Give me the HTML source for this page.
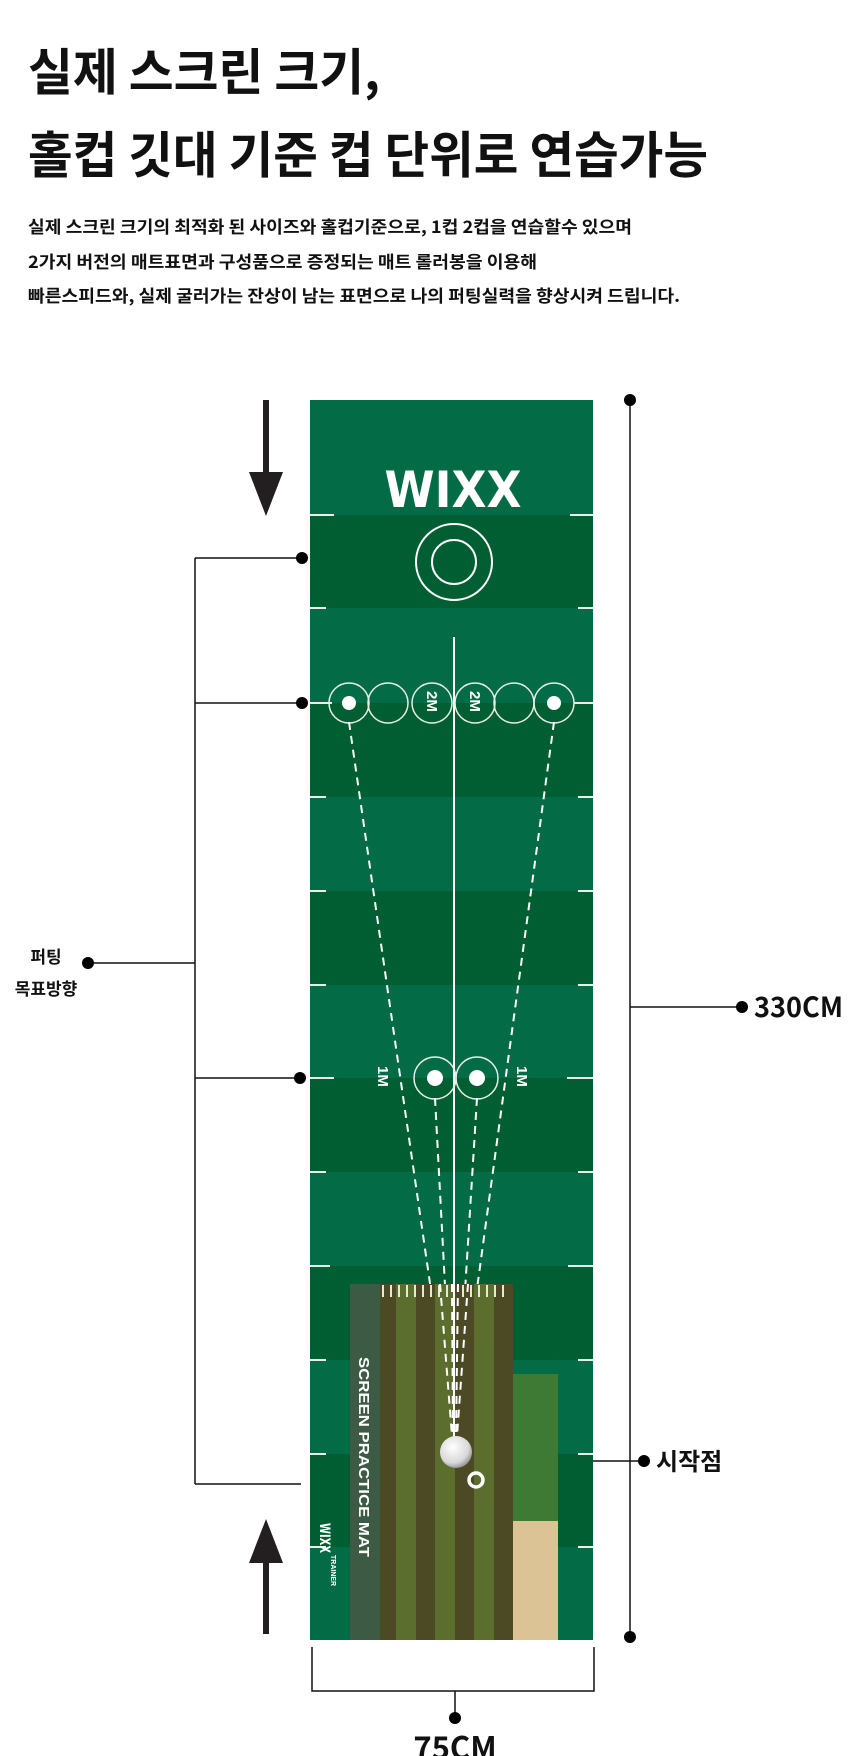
<!DOCTYPE html>
<html><head><meta charset="utf-8"><style>
html,body{margin:0;padding:0;background:#fff;}
svg{display:block;}
text{font-family:"Liberation Sans","Noto Sans CJK KR",sans-serif;font-weight:bold;}
</style></head><body>
<svg width="860" height="1756" viewBox="0 0 860 1756" xmlns="http://www.w3.org/2000/svg">
<rect width="860" height="1756" fill="#fff"/>
<g fill="#111">
<text x="28" y="90" font-size="50" textLength="352" lengthAdjust="spacingAndGlyphs" style="font-family:'Noto Sans CJK KR',sans-serif">실제 스크린 크기,</text>
<text x="28" y="173" font-size="50" textLength="680" lengthAdjust="spacingAndGlyphs" style="font-family:'Noto Sans CJK KR',sans-serif">홀컵 깃대 기준 컵 단위로 연습가능</text>
<text x="28" y="233" font-size="17" textLength="604" lengthAdjust="spacingAndGlyphs" style="font-family:'Noto Sans CJK KR',sans-serif">실제 스크린 크기의 최적화 된 사이즈와 홀컵기준으로, 1컵 2컵을 연습할수 있으며</text>
<text x="28" y="268" font-size="17" textLength="509" lengthAdjust="spacingAndGlyphs" style="font-family:'Noto Sans CJK KR',sans-serif">2가지 버전의 매트표면과 구성품으로 증정되는 매트 롤러봉을 이용해</text>
<text x="28" y="302" font-size="17" textLength="652" lengthAdjust="spacingAndGlyphs" style="font-family:'Noto Sans CJK KR',sans-serif">빠른스피드와, 실제 굴러가는 잔상이 남는 표면으로 나의 퍼팅실력을 향상시켜 드립니다.</text>
</g>

<!-- mat -->
<rect x="310" y="400" width="283" height="1240" fill="#036b45"/>
<g fill="#005f32">
<rect x="310" y="515" width="283" height="93"/>
<rect x="310" y="703" width="283" height="94"/>
<rect x="310" y="891" width="283" height="94"/>
<rect x="310" y="1078" width="283" height="94"/>
<rect x="310" y="1266" width="283" height="94"/>
<rect x="310" y="1454" width="283" height="93"/>
</g>
<g stroke="#e8efe8" stroke-width="2">
<path d="M310 515h24M570 515h23M310 608h16M578 608h15"/>
<path d="M310 797h16M578 797h15M310 891h16M578 891h15M310 985h16M578 985h15M310 1172h16M578 1172h15M310 1266h20M568 1266h25M310 1360h16M578 1360h15M310 1454h16M578 1454h15M310 1547h16M578 1547h15"/>
<path d="M310 703h22M574 703h19M310 1078h24M567 1078h26"/>
</g>
<text x="453" y="507" font-size="50" fill="#fff" text-anchor="middle" textLength="137" lengthAdjust="spacingAndGlyphs" style="font-family:'DejaVu Sans',sans-serif;font-weight:bold">WIXX</text>
<circle cx="454" cy="562" r="38" fill="none" stroke="#fff" stroke-width="2"/>
<circle cx="454" cy="562" r="22" fill="none" stroke="#fff" stroke-width="2"/>
<line x1="454" y1="637" x2="454" y2="1440" stroke="#fff" stroke-width="2"/>
<g fill="none" stroke="#e8efe8" stroke-width="1.5">
<circle cx="349" cy="703" r="20"/><circle cx="388" cy="703" r="20"/><circle cx="432" cy="703" r="20"/>
<circle cx="475" cy="703" r="20"/><circle cx="514" cy="703" r="20"/><circle cx="554" cy="703" r="20"/>
<circle cx="435" cy="1078" r="21"/><circle cx="477" cy="1078" r="21"/>
</g>
<g fill="#fff"><circle cx="349" cy="703" r="7"/><circle cx="554" cy="703" r="7"/><circle cx="435" cy="1078" r="8"/><circle cx="477" cy="1078" r="8"/></g>
<g fill="#fff" font-size="15" style="font-family:'DejaVu Sans',sans-serif;font-weight:bold">
<text transform="translate(427,691) rotate(90)">2M</text>
<text transform="translate(470,691) rotate(90)">2M</text>
<text transform="translate(378,1066) rotate(90)">1M</text>
<text transform="translate(517,1066) rotate(90)">1M</text>
</g>
<g stroke="#fff" stroke-width="2" stroke-dasharray="8,6" fill="none">
<line x1="349" y1="722" x2="452" y2="1436"/>
<line x1="554" y1="722" x2="457" y2="1436"/>
<line x1="435" y1="1098" x2="453" y2="1436"/>
<line x1="477" y1="1098" x2="456" y2="1436"/>
</g>
<!-- lower mat -->
<rect x="350" y="1284" width="30" height="356" fill="#3d5a45"/>
<rect x="380" y="1284" width="133" height="356" fill="#4b4a25"/>
<g fill="#5b6e2e"><rect x="396" y="1284" width="20" height="356"/><rect x="435" y="1284" width="20" height="356"/><rect x="474" y="1284" width="20" height="356"/></g>
<g stroke="#e8e8d8" stroke-width="2"><path d="M383 1285v12M391 1285v12M399 1285v12M407 1285v12M415 1285v12M423 1285v12M431 1285v12M439 1285v12M447 1285v12M463 1285v12M471 1285v12M479 1285v12M487 1285v12M495 1285v12M503 1285v12"/></g>
<g stroke="#fff" stroke-width="2" stroke-dasharray="8,6" fill="none">
<line x1="440" y1="1284" x2="452" y2="1436"/><line x1="468" y1="1284" x2="457" y2="1436"/>
<line x1="452" y1="1284" x2="453" y2="1436"/><line x1="458" y1="1284" x2="456" y2="1436"/>
</g>
<line x1="454" y1="1284" x2="454" y2="1440" stroke="#fff" stroke-width="2"/>
<rect x="513" y="1374" width="45" height="147" fill="#3f7a35"/>
<rect x="513" y="1521" width="45" height="119" fill="#dcc395"/>
<defs><radialGradient id="b" cx="0.4" cy="0.35" r="0.7"><stop offset="0" stop-color="#fff"/><stop offset="0.7" stop-color="#d8d8d8"/><stop offset="1" stop-color="#8a8a8a"/></radialGradient></defs>
<circle cx="456" cy="1452" r="16" fill="url(#b)"/>
<circle cx="476" cy="1480" r="7" fill="none" stroke="#fff" stroke-width="3.5"/>
<text transform="translate(359,1357) rotate(90)" font-size="15" fill="#fff" textLength="200" lengthAdjust="spacingAndGlyphs">SCREEN PRACTICE MAT</text>
<text transform="translate(320,1523) rotate(90)" font-size="14" fill="#fff" textLength="30" lengthAdjust="spacingAndGlyphs" style="font-family:'DejaVu Sans',sans-serif;font-weight:bold">WIXX</text>
<text transform="translate(331,1555) rotate(90)" font-size="7" fill="#fff">TRAINER</text>

<!-- arrows -->
<rect x="263" y="400" width="6" height="85" fill="#231f20"/>
<polygon points="249,472 283,472 266,516" fill="#231f20"/>
<rect x="263" y="1550" width="6" height="84" fill="#231f20"/>
<polygon points="249,1563 283,1563 266,1519" fill="#231f20"/>

<!-- dimension lines -->
<g stroke="#111" stroke-width="1.5" fill="none">
<line x1="630" y1="400" x2="630" y2="1637"/>
<line x1="630" y1="1007" x2="742" y2="1007"/>
<line x1="593" y1="1461" x2="644" y2="1461"/>
<path d="M312 1647V1691H594V1647M455 1691V1718"/>
<path d="M195 558V1484M195 558H302M195 703H302M195 1078H300M195 1484H301M88 963H195"/>
</g>
<g fill="#000">
<circle cx="630" cy="400" r="6"/><circle cx="630" cy="1637" r="6"/>
<circle cx="742" cy="1007" r="6"/><circle cx="644" cy="1461" r="6"/>
<circle cx="455" cy="1718" r="6"/>
<circle cx="302" cy="558" r="6"/><circle cx="302" cy="703" r="6"/><circle cx="300" cy="1078" r="6"/>
<circle cx="88" cy="963" r="6"/>
</g>
<g fill="#111">
<text x="754" y="1017" font-size="28" textLength="89" lengthAdjust="spacingAndGlyphs" style="font-family:'Noto Sans CJK KR',sans-serif">330CM</text>
<text x="656" y="1470" font-size="24" style="font-family:'Noto Sans CJK KR',sans-serif">시작점</text>
<text x="455" y="1759" font-size="31" text-anchor="middle" style="font-family:'Noto Sans CJK KR',sans-serif">75CM</text>
<text x="46" y="963" font-size="17" text-anchor="middle" style="font-family:'Noto Sans CJK KR',sans-serif">퍼팅</text>
<text x="46" y="995" font-size="17" text-anchor="middle" style="font-family:'Noto Sans CJK KR',sans-serif">목표방향</text>
</g>
</svg>
</body></html>
